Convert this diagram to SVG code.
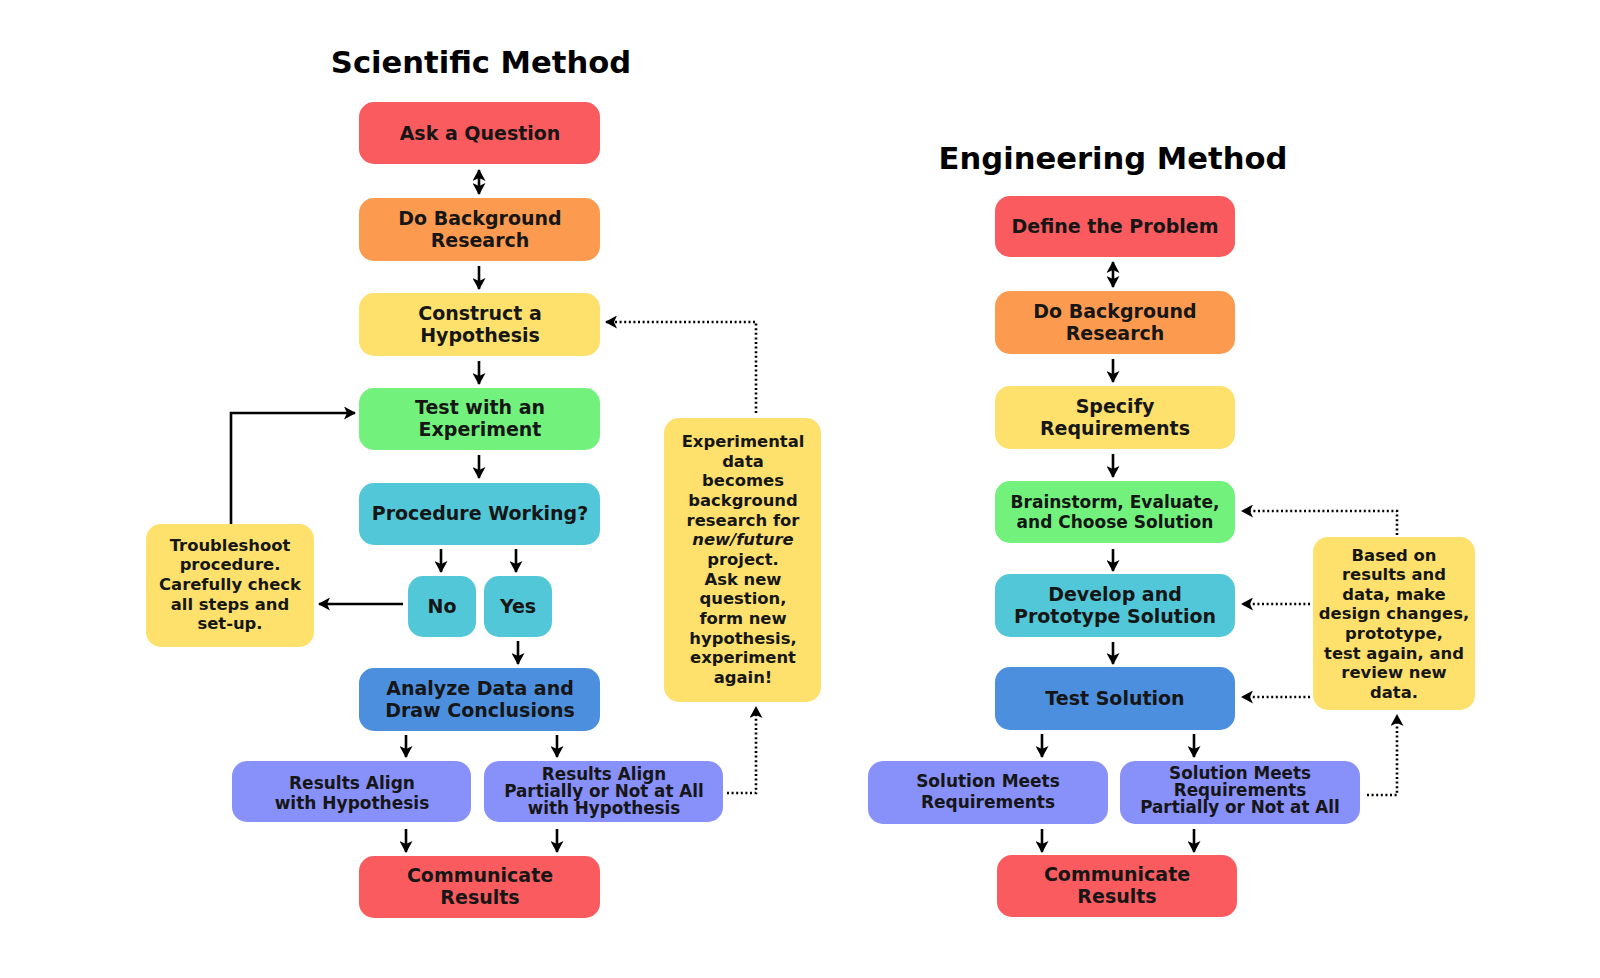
<svg xmlns="http://www.w3.org/2000/svg" width="1600" height="978" viewBox="0 0 1600 978">
<defs>
<marker id="ah" markerUnits="userSpaceOnUse" markerWidth="13" markerHeight="13" refX="11" refY="6.5" orient="auto-start-reverse">
<path d="M0,0 L12,6.5 L0,13 L3,6.5 z" fill="#000"/>
</marker>
<style>
.t{font-family:"DejaVu Sans","Verdana",sans-serif;font-weight:bold;text-anchor:middle;fill:#161616}
.title{font-size:30.6px;fill:#000}
.b{font-size:19px}
.s{font-size:16.4px}
.g{font-size:17px}
.n{font-size:16.8px}
.red{fill:#fa5b5e}
.org{fill:#fc9b50}
.yel{fill:#fde16c}
.grn{fill:#72f27c}
.cyn{fill:#52c7d8}
.blu{fill:#4d8fdf}
.pur{fill:#8890f9}
.a{stroke:#000;stroke-width:2.6;fill:none;marker-end:url(#ah)}
.d{stroke:#000;stroke-width:2.6;fill:none;stroke-dasharray:2 2.6;marker-end:url(#ah)}
</style>
</defs>
<rect width="1600" height="978" fill="#fff"/>

<text class="t title" x="481" y="73">Scientific Method</text>
<text class="t title" x="1113" y="169">Engineering Method</text>

<g id="connectors">
<line class="a" x1="479" y1="170" x2="479" y2="194" style="marker-start:url(#ah)"/>
<line class="a" x1="479" y1="266" x2="479" y2="289"/>
<line class="a" x1="479" y1="361" x2="479" y2="384"/>
<line class="a" x1="479" y1="455" x2="479" y2="478"/>
<line class="a" x1="441" y1="549" x2="441" y2="572"/>
<line class="a" x1="516" y1="549" x2="516" y2="572"/>
<line class="a" x1="403" y1="604" x2="319" y2="604"/>
<polyline class="a" points="231,524 231,413 355,413"/>
<line class="a" x1="518" y1="641" x2="518" y2="664"/>
<line class="a" x1="406" y1="735" x2="406" y2="757"/>
<line class="a" x1="557" y1="735" x2="557" y2="757"/>
<line class="a" x1="406" y1="829" x2="406" y2="852"/>
<line class="a" x1="557" y1="829" x2="557" y2="852"/>
<polyline class="d" points="727,793 756,793 756,707"/>
<polyline class="d" points="756,413 756,322 606,322"/>

<line class="a" x1="1113" y1="262" x2="1113" y2="287" style="marker-start:url(#ah)"/>
<line class="a" x1="1113" y1="359" x2="1113" y2="382"/>
<line class="a" x1="1113" y1="454" x2="1113" y2="477"/>
<line class="a" x1="1113" y1="549" x2="1113" y2="571"/>
<line class="a" x1="1113" y1="642" x2="1113" y2="664"/>
<line class="a" x1="1042" y1="734" x2="1042" y2="757"/>
<line class="a" x1="1194" y1="734" x2="1194" y2="757"/>
<line class="a" x1="1042" y1="829" x2="1042" y2="852"/>
<line class="a" x1="1194" y1="829" x2="1194" y2="852"/>
<polyline class="d" points="1397,535 1397,511 1242,511"/>
<line class="d" x1="1310" y1="604" x2="1242" y2="604"/>
<line class="d" x1="1310" y1="697" x2="1242" y2="697"/>
<polyline class="d" points="1367,795 1397,795 1397,715"/>
</g>

<g id="ask"><rect class="red" x="359" y="102" width="241" height="62" rx="15"/>
<text class="t b" x="480" y="140">Ask a Question</text></g>
<g id="bg1"><rect class="org" x="359" y="198" width="241" height="63" rx="15"/>
<text class="t b" x="480" y="225">Do Background</text><text class="t b" x="480" y="247">Research</text></g>
<g id="hyp"><rect class="yel" x="359" y="293" width="241" height="63" rx="15"/>
<text class="t b" x="480" y="320">Construct a</text><text class="t b" x="480" y="342">Hypothesis</text></g>
<g id="exp"><rect class="grn" x="359" y="388" width="241" height="62" rx="15"/>
<text class="t b" x="480" y="414">Test with an</text><text class="t b" x="480" y="436">Experiment</text></g>
<g id="proc"><rect class="cyn" x="359" y="483" width="241" height="62" rx="15"/>
<text class="t b" x="480" y="520">Procedure Working?</text></g>
<g id="no"><rect class="cyn" x="408" y="576" width="68" height="61" rx="15"/>
<text class="t b" x="442" y="613">No</text></g>
<g id="yes"><rect class="cyn" x="484" y="576" width="68" height="61" rx="15"/>
<text class="t b" x="518" y="613">Yes</text></g>
<g id="trouble"><rect class="yel" x="146" y="524" width="168" height="123" rx="15"/>
<text class="t s" x="230" y="551">Troubleshoot</text>
<text class="t s" x="230" y="570">procedure.</text>
<text class="t s" x="230" y="590">Carefully check</text>
<text class="t s" x="230" y="610">all steps and</text>
<text class="t s" x="230" y="629">set-up.</text></g>
<g id="analyze"><rect class="blu" x="359" y="668" width="241" height="63" rx="15"/>
<text class="t b" x="480" y="695">Analyze Data and</text><text class="t b" x="480" y="717">Draw Conclusions</text></g>
<g id="align"><rect class="pur" x="232" y="761" width="239" height="61" rx="15"/>
<text class="t g" x="352" y="789">Results Align</text><text class="t g" x="352" y="809">with Hypothesis</text></g>
<g id="partial"><rect class="pur" x="484" y="761" width="239" height="61" rx="15"/>
<text class="t n" x="604" y="780">Results Align</text><text class="t n" x="604" y="797">Partially or Not at All</text><text class="t n" x="604" y="814">with Hypothesis</text></g>
<g id="comm1"><rect class="red" x="359" y="856" width="241" height="62" rx="15"/>
<text class="t b" x="480" y="882">Communicate</text><text class="t b" x="480" y="904">Results</text></g>
<g id="expnote"><rect class="yel" x="664" y="418" width="157" height="284" rx="15"/>
<text class="t s" x="743" y="447">Experimental</text>
<text class="t s" x="743" y="467">data</text>
<text class="t s" x="743" y="486">becomes</text>
<text class="t s" x="743" y="506">background</text>
<text class="t s" x="743" y="526">research for</text>
<text class="t s" x="743" y="545" font-style="italic">new/future</text>
<text class="t s" x="743" y="565">project.</text>
<text class="t s" x="743" y="585">Ask new</text>
<text class="t s" x="743" y="604">question,</text>
<text class="t s" x="743" y="624">form new</text>
<text class="t s" x="743" y="644">hypothesis,</text>
<text class="t s" x="743" y="663">experiment</text>
<text class="t s" x="743" y="683">again!</text></g>

<g id="define"><rect class="red" x="995" y="196" width="240" height="61" rx="15"/>
<text class="t b" x="1115" y="233">Define the Problem</text></g>
<g id="bg2"><rect class="org" x="995" y="291" width="240" height="63" rx="15"/>
<text class="t b" x="1115" y="318">Do Background</text><text class="t b" x="1115" y="340">Research</text></g>
<g id="spec"><rect class="yel" x="995" y="386" width="240" height="63" rx="15"/>
<text class="t b" x="1115" y="413">Specify</text><text class="t b" x="1115" y="435">Requirements</text></g>
<g id="brain"><rect class="grn" x="995" y="481" width="240" height="62" rx="15"/>
<text class="t g" x="1115" y="508">Brainstorm, Evaluate,</text><text class="t g" x="1115" y="528">and Choose Solution</text></g>
<g id="develop"><rect class="cyn" x="995" y="574" width="240" height="63" rx="15"/>
<text class="t b" x="1115" y="601">Develop and</text><text class="t b" x="1115" y="623">Prototype Solution</text></g>
<g id="testsol"><rect class="blu" x="995" y="667" width="240" height="63" rx="15"/>
<text class="t b" x="1115" y="705">Test Solution</text></g>
<g id="meets"><rect class="pur" x="868" y="761" width="240" height="63" rx="15"/>
<text class="t g" x="988" y="787">Solution Meets</text><text class="t g" x="988" y="808">Requirements</text></g>
<g id="meetspart"><rect class="pur" x="1120" y="761" width="240" height="63" rx="15"/>
<text class="t n" x="1240" y="779">Solution Meets</text><text class="t n" x="1240" y="796">Requirements</text><text class="t n" x="1240" y="813">Partially or Not at All</text></g>
<g id="comm2"><rect class="red" x="997" y="855" width="240" height="62" rx="15"/>
<text class="t b" x="1117" y="881">Communicate</text><text class="t b" x="1117" y="903">Results</text></g>
<g id="basednote"><rect class="yel" x="1313" y="537" width="162" height="173" rx="15"/>
<text class="t s" x="1394" y="561">Based on</text>
<text class="t s" x="1394" y="580">results and</text>
<text class="t s" x="1394" y="600">data, make</text>
<text class="t s" x="1394" y="619">design changes,</text>
<text class="t s" x="1394" y="639">prototype,</text>
<text class="t s" x="1394" y="659">test again, and</text>
<text class="t s" x="1394" y="678">review new</text>
<text class="t s" x="1394" y="698">data.</text></g>
</svg>
